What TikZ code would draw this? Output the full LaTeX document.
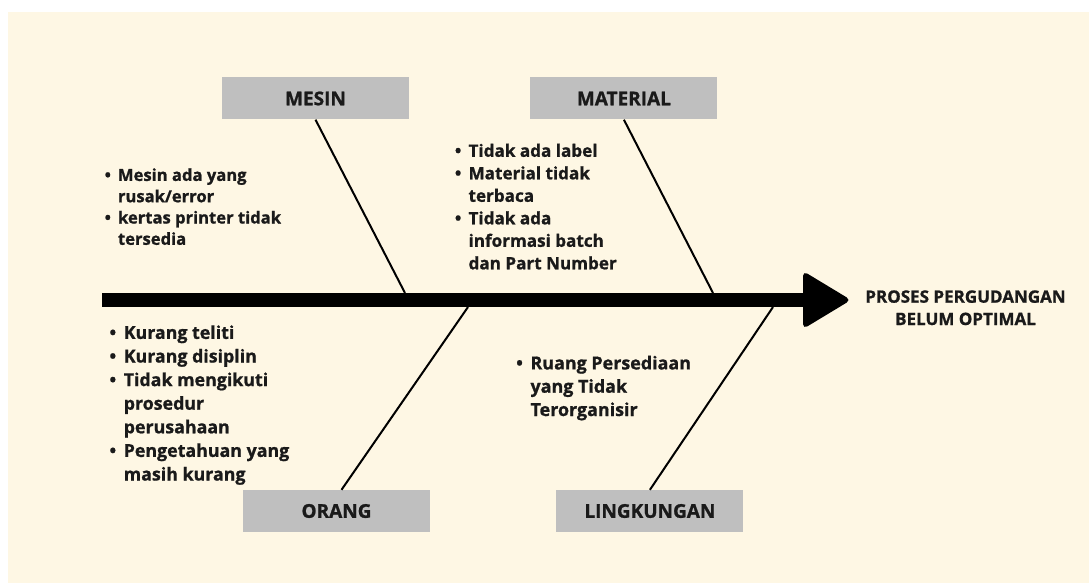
\documentclass[tikz,border=0pt]{standalone}
\usepackage{fontspec}
\setmainfont{Open Sans}[BoldFeatures={FakeBold=1}]
\usetikzlibrary{positioning}
\definecolor{cream}{RGB}{254,247,228}
\definecolor{boxgray}{RGB}{191,191,191}
\definecolor{inkblack}{RGB}{26,26,26}
\newcommand{\blt}{\makebox[0.8em][l]{\textbullet}}
\newcommand{\ind}{\hspace*{0.8em}}
\tikzset{
  cause/.style={rectangle,fill=boxgray,minimum width=187pt,minimum height=42pt,inner sep=0pt,
    text=inkblack,font=\fontsize{19}{22}\selectfont\bfseries},
  causelist/.style 2 args={align=left,inner sep=0pt,anchor=base west,text=inkblack,
    font=\fontsize{#1}{#2}\selectfont\bfseries},
  effect/.style={align=center,inner sep=0pt,anchor=base,text=inkblack,
    font=\fontsize{17}{22.3}\selectfont\bfseries},
  spine/.style={line width=14pt,color=black},
  arrowhead/.style={fill=black,rounded corners=5pt},
  bone/.style={line width=2pt,color=black}
}

\begin{document}
\begin{tikzpicture}[x=1pt,y=-1pt]
  \useasboundingbox (0,0) rectangle (1089,583);
  \fill[white] (0,0) rectangle (1089,583);
  \fill[cream] (8,12) rectangle (1089,583);

  % causes
  \node[cause] (mesin) at (315.5,98.5) {MESIN};
  \node[cause,right=121pt of mesin] (material) {MATERIAL};
  \node[cause] (orang) at (336.5,511) {ORANG};
  \node[cause,right=126pt of orang] (lingkungan) {LINGKUNGAN};

  % spine and head
  \coordinate (tail) at (102,300);
  \coordinate (head) at (805,300);
  \draw[spine] (tail) -- (head);
  \fill[arrowhead] (head) ++(-2,-29) -- ++(48,29) -- ++(-48,29) -- cycle;
  \node[effect] (effect) at (965.5,325) {PROSES PERGUDANGAN\\BELUM OPTIMAL};

  % bones
  \coordinate (mesinjoint) at (405,293);
  \coordinate (materialjoint) at (713,293);
  \coordinate (orangjoint) at (468,307);
  \coordinate (lingkunganjoint) at (773,307);
  \draw[bone] (mesin.south) -- (mesinjoint);
  \draw[bone] (material.south) -- (materialjoint);
  \draw[bone] ([xshift=5pt]orang.north) -- (orangjoint);
  \draw[bone] (lingkungan.north) -- (lingkunganjoint);

  % lists (anchored at the baseline of the last line)
  \node[causelist={16.6}{21.3}] (mesinlist) at (104.5,244.8)
    {\blt Mesin ada yang\\ \ind rusak/error\\ \blt kertas printer tidak\\ \ind tersedia};
  \node[causelist={17.1}{22.5}] (materiallist) at (454.7,269.3)
    {\blt Tidak ada label\\ \blt Material tidak\\ \ind terbaca\\ \blt Tidak ada\\
     \ind informasi batch\\ \ind dan Part Number};
  \node[causelist={17.8}{23.6}] (oranglist) at (109.3,480.5)
    {\blt Kurang teliti\\ \blt Kurang disiplin\\ \blt Tidak mengikuti\\ \ind prosedur\\
     \ind perusahaan\\ \blt Pengetahuan yang\\ \ind masih kurang};
  \node[causelist={17.9}{23.3}] (lingkunganlist) at (516,416)
    {\blt Ruang Persediaan\\ \ind yang Tidak\\ \ind Terorganisir};
\end{tikzpicture}
\end{document}
